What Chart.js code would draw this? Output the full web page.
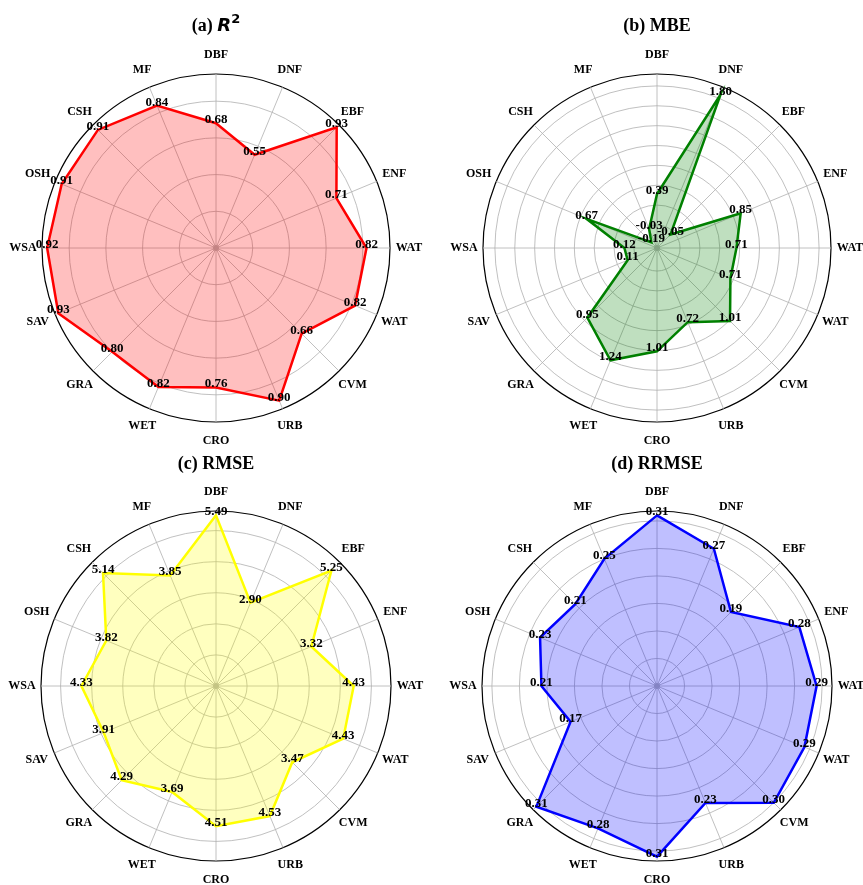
<!DOCTYPE html>
<html>
<head>
<meta charset="utf-8">
<script src="https://cdn.jsdelivr.net/npm/chart.js@4.4.1/dist/chart.umd.min.js"></script>
<style>
  html, body { margin: 0; padding: 0; background: #fff; }
  #wrap { position: relative; width: 863px; height: 885px; overflow: hidden; }
  canvas { position: absolute; }
</style>
</head>
<body>
<div id="wrap">
  <canvas id="chartC" width="431" height="445" style="left:0px;top:440px"></canvas>
  <canvas id="chartD" width="432" height="445" style="left:431px;top:440px"></canvas>
  <canvas id="chartA" width="431" height="460" style="left:0px;top:0px"></canvas>
  <canvas id="chartB" width="432" height="460" style="left:431px;top:0px"></canvas>
</div>
<script>
// land cover classes, clockwise from the top
const categories = ['DBF', 'DNF', 'EBF', 'ENF', 'WAT', 'WAT', 'CVM', 'URB',
                    'CRO', 'WET', 'GRA', 'SAV', 'WSA', 'OSH', 'CSH', 'MF'];

const r2Values    = [0.68, 0.55, 0.93, 0.71, 0.82, 0.82, 0.66, 0.90, 0.76, 0.82, 0.80, 0.93, 0.92, 0.91, 0.91, 0.84];
const mbeValues   = [0.39, 1.80, -0.05, 0.85, 0.71, 0.71, 1.01, 0.72, 1.01, 1.24, 0.95, 0.11, 0.12, 0.67, -0.19, -0.03];
const rmseValues  = [5.49, 2.90, 5.25, 3.32, 4.43, 4.43, 3.47, 4.53, 4.51, 3.69, 4.29, 3.91, 4.33, 3.82, 5.14, 3.85];
const rrmseValues = [0.31, 0.27, 0.19, 0.28, 0.29, 0.29, 0.30, 0.23, 0.31, 0.28, 0.31, 0.17, 0.21, 0.23, 0.21, 0.25];

// radial ranges and grid rings
const r2Range = [0, 0.948],     r2Rings = [0.2, 0.4, 0.6, 0.8];
const mbeRange = [-0.29, 1.90], mbeRings = [0, 0.25, 0.5, 0.75, 1.0, 1.25, 1.5, 1.75];
const rmseRange = [0, 5.63],    rmseRings = [1, 2, 3, 4, 5];
const rrmseRange = [0, 0.318],  rrmseRings = [0.05, 0.10, 0.15, 0.20, 0.25, 0.30];

const SERIF = '"Liberation Serif", "Times New Roman", serif';

const radarText = {
  id: 'radarText',
  beforeDatasetsDraw(chart) {
    // small grey hub where the spokes meet
    const s = chart.scales.r;
    const ctx = chart.ctx;
    ctx.save();
    ctx.fillStyle = '#b0b0b0';
    ctx.beginPath();
    ctx.arc(s.xCenter, s.yCenter, 3, 0, Math.PI * 2);
    ctx.fill();
    ctx.restore();
  },
  afterDraw(chart, args, opts) {
    const ctx = chart.ctx;
    const scale = chart.scales.r;
    ctx.save();
    ctx.fillStyle = '#000';
    ctx.textAlign = 'center';

    // class names round the outer ring
    ctx.font = 'bold 12px ' + SERIF;
    ctx.textBaseline = 'middle';
    chart.data.labels.forEach((lab, i) => {
      const p = scale.getPointPosition(i, scale.drawingArea + 19);
      ctx.fillText(lab, p.x, p.y);
    });

    // value at each vertex
    ctx.font = 'bold 13px ' + SERIF;
    ctx.textBaseline = 'alphabetic';
    const meta = chart.getDatasetMeta(0);
    const vals = chart.data.datasets[0].data;
    meta.data.forEach((pt, i) => {
      ctx.fillText(vals[i].toFixed(2), pt.x, pt.y);
    });

    // title (mixed fonts for R^2)
    const parts = opts.title;
    let total = 0;
    parts.forEach(p => { ctx.font = p.font; p.w = ctx.measureText(p.text).width; total += p.w; });
    let x = scale.xCenter - total / 2;
    ctx.textAlign = 'left';
    parts.forEach(p => {
      ctx.font = p.font;
      ctx.fillText(p.text, x, opts.titleY + (p.dy || 0));
      x += p.w;
    });
    ctx.restore();
  }
};

function makeRadar(id, values, range, rings, lineColor, fillColor, pad, title, titleY) {
  const [lo, hi] = range;
  const tickVals = [lo].concat(rings.filter(v => v > lo), [hi]);
  return new Chart(document.getElementById(id), {
    type: 'radar',
    data: {
      labels: categories,
      datasets: [{
        data: values,
        borderColor: lineColor,
        backgroundColor: fillColor,
        borderWidth: 2.5,
        fill: 'start',
        tension: 0,
        pointRadius: 0,
        pointHoverRadius: 0
      }]
    },
    options: {
      responsive: false,
      animation: false,
      events: [],
      layout: { padding: pad },
      plugins: {
        legend: { display: false },
        tooltip: { enabled: false },
        radarText: { title: title, titleY: titleY }
      },
      scales: {
        r: {
          min: lo,
          max: hi,
          afterBuildTicks: (s) => { s.ticks = tickVals.map(v => ({ value: v })); },
          ticks: { display: false },
          pointLabels: { display: false },
          grid: {
            circular: true,
            color: (c) => (c.tick && c.tick.value === hi) ? '#000000' : '#b0b0b0',
            lineWidth: (c) => (c.tick && c.tick.value === hi) ? 1.2 : 0.8
          },
          angleLines: { color: '#b0b0b0', lineWidth: 0.8 }
        }
      }
    },
    plugins: [radarText]
  });
}

const titleFont = 'bold 18px ' + SERIF;

makeRadar('chartA', r2Values, r2Range, r2Rings, '#ff0000', 'rgba(255,0,0,0.25)',
  { left: 42, right: 41, top: 74, bottom: 38 },
  [{ text: '(a) ', font: titleFont },
   { text: 'R', font: 'italic bold 18px "DejaVu Sans", sans-serif' },
   { text: '2', font: 'bold 13px "DejaVu Sans", sans-serif', dy: -8 }], 31);

makeRadar('chartB', mbeValues, mbeRange, mbeRings, '#008000', 'rgba(0,128,0,0.25)',
  { left: 52, right: 32, top: 74, bottom: 38 },
  [{ text: '(b) MBE', font: titleFont }], 31);

makeRadar('chartC', rmseValues, rmseRange, rmseRings, '#ffff00', 'rgba(255,255,0,0.25)',
  { left: 41, right: 40, top: 71, bottom: 24 },
  [{ text: '(c) RMSE', font: titleFont }], 29);

makeRadar('chartD', rrmseValues, rrmseRange, rrmseRings, '#0000ff', 'rgba(0,0,255,0.25)',
  { left: 51, right: 31, top: 71, bottom: 24 },
  [{ text: '(d) RRMSE', font: titleFont }], 29);
</script>
</body>
</html>
